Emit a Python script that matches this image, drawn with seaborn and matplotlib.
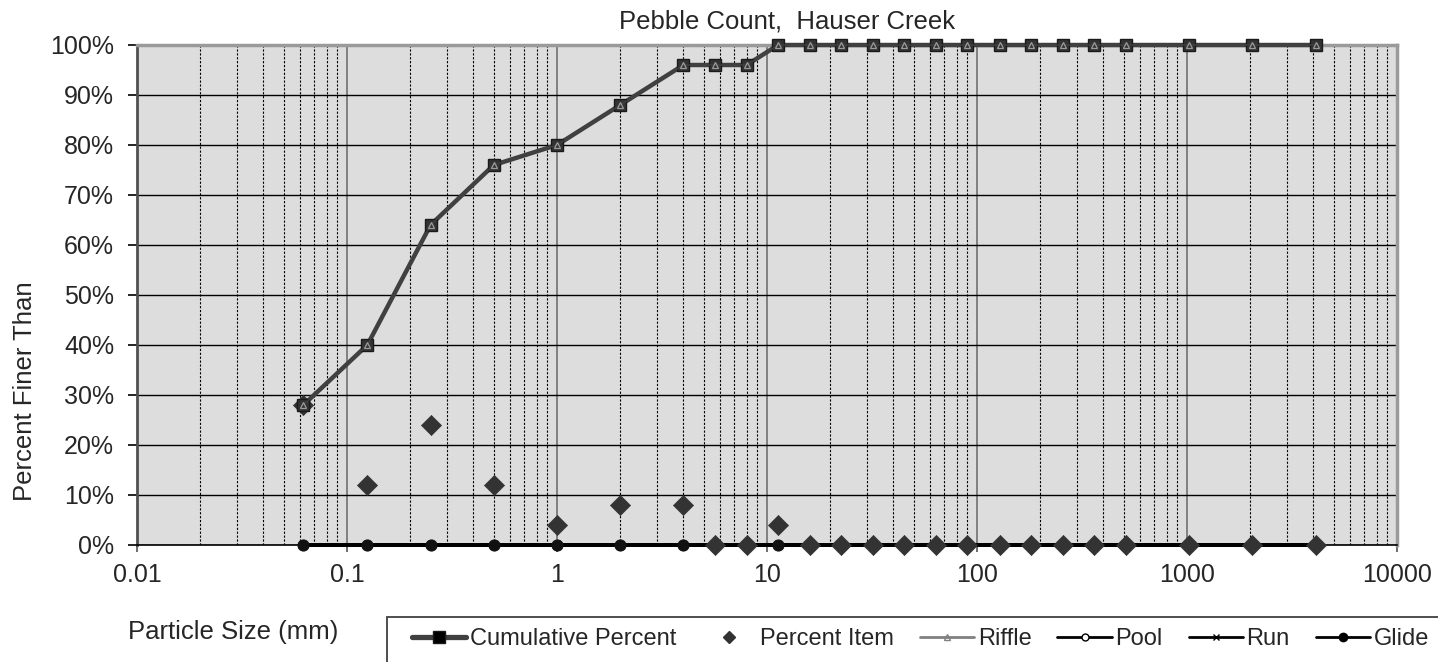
import matplotlib
matplotlib.use("Agg")
import matplotlib.pyplot as plt
import seaborn as sns
import pandas as pd
from matplotlib.ticker import PercentFormatter, LogLocator, FixedLocator, NullFormatter
from matplotlib.lines import Line2D
from matplotlib.patches import Rectangle

# ---------------- data ----------------
sizes_mm = [0.062, 0.125, 0.25, 0.5, 1, 2, 4, 5.66, 8, 11.3, 16, 22.6, 32, 45,
            64, 90, 128, 180, 256, 362, 512, 1024, 2048, 4096]
cumulative_pct = [28, 40, 64, 76, 80, 88, 96, 96, 96, 100, 100, 100, 100, 100,
                  100, 100, 100, 100, 100, 100, 100, 100, 100, 100]
percent_item = [28, 12, 24, 12, 4, 8, 8, 0, 0, 4, 0, 0, 0, 0,
                0, 0, 0, 0, 0, 0, 0, 0, 0, 0]
riffle_pct = [28, 40, 64, 76, 80, 88, 96, 96, 96, 100, 100, 100, 100, 100,
              100, 100, 100, 100, 100, 100, 100, 100, 100, 100]
pool_pct = [0, 0, 0, 0, 0, 0, 0, 0, 0, 0, 0, 0, 0, 0,
            0, 0, 0, 0, 0, 0, 0, 0, 0, 0]
run_pct = [0, 0, 0, 0, 0, 0, 0, 0, 0, 0, 0, 0, 0, 0,
           0, 0, 0, 0, 0, 0, 0, 0, 0, 0]
glide_pct = [0, 0, 0, 0, 0, 0, 0, 0, 0, 0, 0, 0, 0, 0,
             0, 0, 0, 0, 0, 0, 0, 0, 0, 0]

title = "Pebble Count,  Hauser Creek"
y_label = "Percent Finer Than"
x_label = "Particle Size (mm)"
legend_labels = ["Cumulative Percent", "Percent Item", "Riffle", "Pool", "Run", "Glide"]

df = pd.DataFrame({"size": sizes_mm, "cum": cumulative_pct, "item": percent_item,
                   "riffle": riffle_pct, "pool": pool_pct, "run": run_pct,
                   "glide": glide_pct})

# ---------------- style ----------------
sns.set_style("white")
plt.rcParams["font.family"] = ["Liberation Sans", "DejaVu Sans"]

W, H = 1438, 662
fig = plt.figure(figsize=(W / 100, H / 100), dpi=100)
ax = fig.add_axes([137 / W, 1 - 545 / H, 1260 / W, 500 / H])
ax.set_xscale("log")
ax.set_xlim(0.01, 10000)
ax.set_ylim(0, 100)
ax.set_facecolor("#dddddd")

ax.xaxis.set_major_locator(FixedLocator([0.01, 0.1, 1, 10, 100, 1000, 10000]))
ax.xaxis.set_major_formatter(plt.FuncFormatter(lambda v, p: f"{v:g}"))
ax.xaxis.set_minor_locator(LogLocator(base=10, subs=[2, 3, 4, 5, 6, 7, 8, 9], numticks=20))
ax.xaxis.set_minor_formatter(NullFormatter())
ax.yaxis.set_major_locator(FixedLocator(list(range(0, 101, 10))))
ax.yaxis.set_major_formatter(PercentFormatter(100, decimals=0))

ax.grid(which="major", axis="x", color="#808080", lw=1.4, ls="-")
ax.grid(which="minor", axis="x", color="black", lw=0.8, ls=(0, (2, 1.5)))
ax.grid(which="major", axis="y", color="black", lw=1.0, ls="-")
ax.set_axisbelow(True)

ax.tick_params(axis="x", which="major", length=5, width=1.2, color="#555555",
               direction="out", labelsize=18, pad=8, bottom=True)
ax.tick_params(axis="x", which="minor", length=0)
ax.tick_params(axis="y", which="major", length=6.5, width=1.2, color="black",
               direction="out", labelsize=18, pad=10, left=True)

ax.spines["left"].set_color("#505050")
ax.spines["left"].set_linewidth(2)
ax.spines["top"].set_color("#9a9a9a")
ax.spines["top"].set_linewidth(2.5)
ax.spines["right"].set_color("#9a9a9a")
ax.spines["right"].set_linewidth(2.5)
ax.spines["bottom"].set_color("black")
ax.spines["bottom"].set_linewidth(1.2)

# ---------------- series ----------------
sns.lineplot(data=df, x="size", y="pool", ax=ax, color="black", lw=2.6,
             marker="o", markersize=5, markerfacecolor="white",
             markeredgecolor="black", estimator=None, legend=False, zorder=3,
             clip_on=False)
sns.lineplot(data=df, x="size", y="run", ax=ax, color="black", lw=2.6,
             marker="x", markersize=5, estimator=None, legend=False, zorder=3,
             clip_on=False)
sns.lineplot(data=df, x="size", y="glide", ax=ax, color="black", lw=2.7,
             marker="o", markersize=8, markerfacecolor="#111111",
             markeredgecolor="#111111", estimator=None, legend=False, zorder=3,
             clip_on=False)
sns.scatterplot(data=df, x="size", y="item", ax=ax, marker="D", s=105,
                color="#333333", edgecolor="#333333", linewidth=0.5,
                legend=False, zorder=4, clip_on=False)
sns.lineplot(data=df, x="size", y="cum", ax=ax, color="#404040", lw=3.2,
             marker="s", markersize=9, markerfacecolor="#333333",
             markeredgecolor="#1a1a1a", markeredgewidth=1, estimator=None,
             legend=False, zorder=5, clip_on=False)
sns.lineplot(data=df, x="size", y="riffle", ax=ax, color="#404040", lw=1.0,
             marker="^", markersize=5, markerfacecolor="none",
             markeredgecolor="#9a9a9a", markeredgewidth=0.9, estimator=None,
             legend=False, zorder=6, clip_on=False)

ax.set_xlabel("")
ax.set_ylabel("")

# ---------------- text ----------------
fig.text(787 / W, 1 - 22 / H, title, ha="center", va="center", fontsize=18.5)
fig.text(25 / W, 1 - 391 / H, y_label, rotation=90, ha="center", va="center",
         fontsize=18.5)
fig.text(128 / W, 1 - 632 / H, x_label, ha="left", va="center", fontsize=18.5)

# ---------------- legend ----------------
fig.add_artist(Rectangle((387 / W, -0.05), (W + 20 - 387) / W, (1 - 617 / H) + 0.05,
                         transform=fig.transFigure, facecolor="white",
                         edgecolor="#404040", lw=1.3, zorder=0))
handles = [
    Line2D([], [], color="#404040", lw=3.8, marker="s", markersize=8,
           markerfacecolor="black", markeredgecolor="#1a1a1a"),
    Line2D([], [], ls="None", marker="D", markersize=6, color="#333333"),
    Line2D([], [], color="#808080", lw=2, marker="^", markersize=5,
           markerfacecolor="none", markeredgecolor="#808080"),
    Line2D([], [], color="black", lw=2, marker="o", markersize=5,
           markerfacecolor="white", markeredgecolor="black"),
    Line2D([], [], color="black", lw=2, marker="x", markersize=5),
    Line2D([], [], color="black", lw=2, marker="o", markersize=6,
           markerfacecolor="black", markeredgecolor="black"),
]
fig.legend(handles, legend_labels, ncol=6, loc="center left",
           bbox_to_anchor=(412 / W, 1 - 639 / H), frameon=False,
           handlelength=2.3, handletextpad=0.15, columnspacing=1.1,
           fontsize=17, borderpad=0, borderaxespad=0)

fig.savefig("out.png", dpi=100)
